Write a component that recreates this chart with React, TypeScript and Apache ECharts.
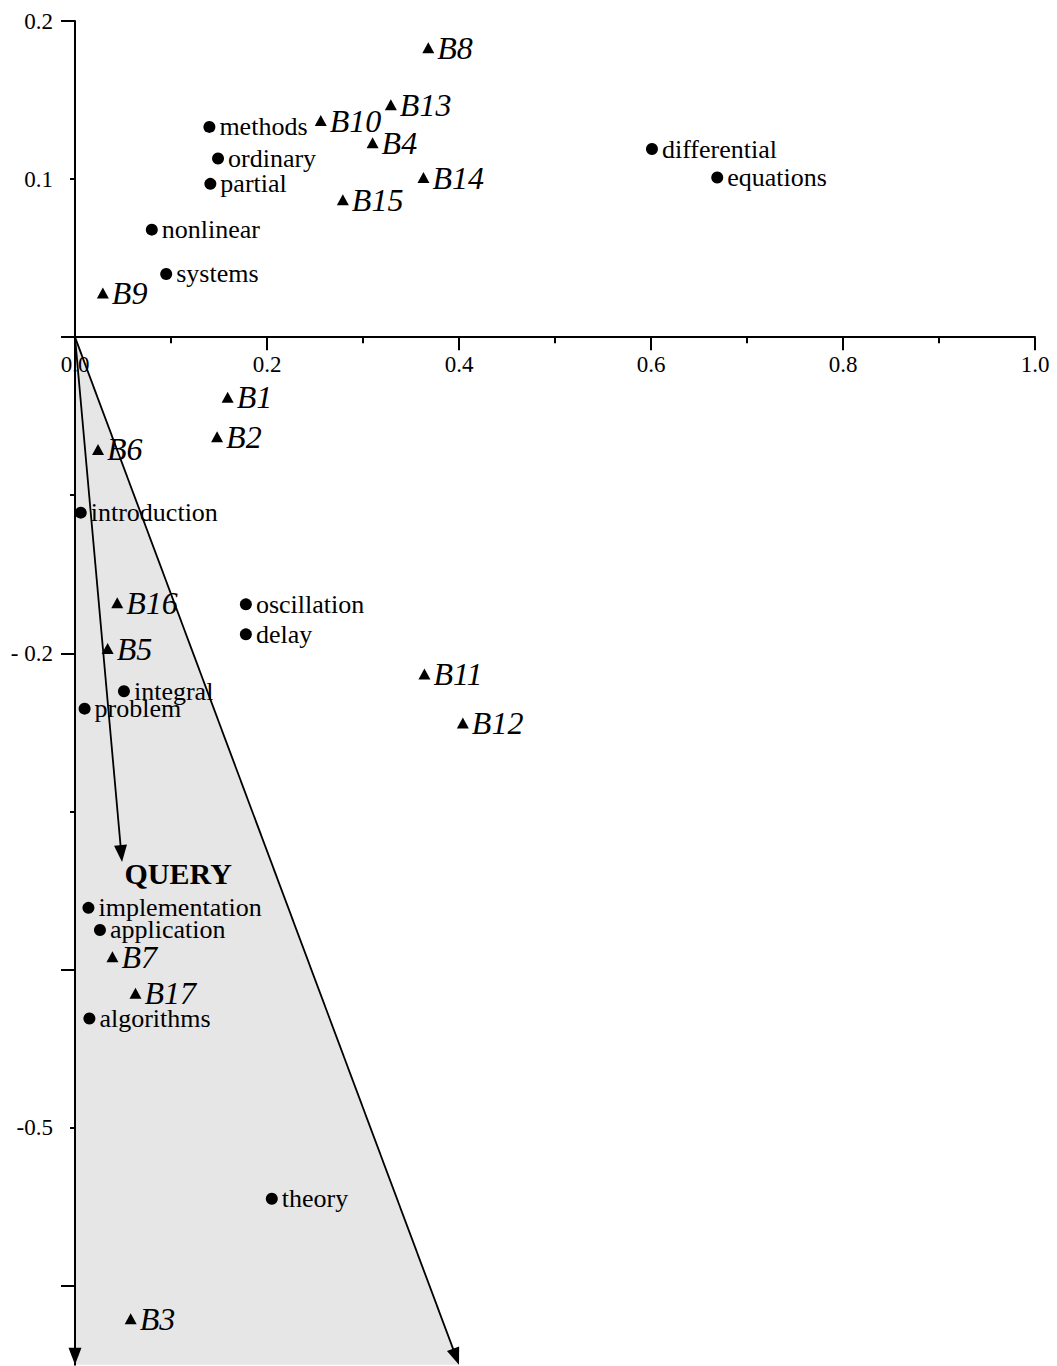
import React, { useEffect, useRef } from "react";
import * as echarts from "echarts";

// ---- data ----
const termNames = [
  "methods", "ordinary", "partial", "nonlinear", "systems", "differential", "equations",
  "introduction", "oscillation", "delay", "integral", "problem", "implementation",
  "application", "algorithms", "theory",
];
const termX = [0.14, 0.149, 0.141, 0.08, 0.095, 0.601, 0.669, 0.006, 0.178, 0.178, 0.051, 0.01, 0.014, 0.026, 0.015, 0.205];
const termY = [0.133, 0.113, 0.097, 0.068, 0.04, 0.119, 0.101, -0.111, -0.169, -0.188, -0.224, -0.235, -0.361, -0.375, -0.431, -0.545];

const docNames = ["B1", "B2", "B3", "B4", "B5", "B6", "B7", "B8", "B9", "B10", "B11", "B12", "B13", "B14", "B15", "B16", "B17"];
const docX = [0.159, 0.148, 0.058, 0.31, 0.034, 0.024, 0.039, 0.368, 0.029, 0.256, 0.364, 0.404, 0.329, 0.363, 0.279, 0.044, 0.063];
const docY = [-0.038, -0.063, -0.621, 0.123, -0.197, -0.071, -0.392, 0.183, 0.028, 0.137, -0.213, -0.244, 0.147, 0.101, 0.087, -0.168, -0.415];

const origin = [0, 0];
const queryPoint = [0.049, -0.332];
const queryLabel = "QUERY";
const coneLeftEnd = [0, -0.65];
const coneRightEnd = [0.4, -0.65];

const xMin = 0;
const xMax = 1.0;
const xInterval = 0.2;
const yMin = -0.65;
const yMax = 0.2;
const yMajorTicks = [0.2, 0, -0.2, -0.4, -0.6];
const yMinorTicks = [0.1, -0.1, -0.3, -0.5];
const yLabelValues = [0.2, 0.1, -0.2, -0.5];
const yLabelTexts = ["0.2", "0.1", "- 0.2", "-0.5"];

const FONT = "Liberation Serif";
const GRID_TOP = 21;
const GRID_BOTTOM = 1.3;
const CHART_H = 1366;

export default function App() {
  const ref = useRef<HTMLDivElement>(null);

  useEffect(() => {
    if (!ref.current) return;
    const chart = echarts.init(ref.current, undefined, { renderer: "svg" });

    const coneData = [[...origin, ...coneLeftEnd, ...coneRightEnd]];
    const arrowData = [
      [...origin, ...coneLeftEnd],
      [...origin, ...coneRightEnd],
      [...origin, ...queryPoint],
    ];

    const termData = termNames.map((n, i) => ({ name: n, value: [termX[i], termY[i]] }));
    const docData = docNames.map((n, i) => ({ name: n, value: [docX[i], docY[i]] }));

    // pixel distance from the grid bottom up to y = 0, so the x axis sits on zero
    const plotH = CHART_H - GRID_TOP - GRID_BOTTOM;
    const zeroOffset = -plotH * ((0 - yMin) / (yMax - yMin));

    const option: any = {
      animation: false,
      textStyle: { fontFamily: FONT },
      grid: {
        left: 75,
        right: 22,
        top: GRID_TOP,
        bottom: GRID_BOTTOM,
        containLabel: false,
        outerBoundsMode: "none",
      },
      xAxis: {
        type: "value",
        min: xMin,
        max: xMax,
        interval: xInterval,
        position: "bottom",
        offset: zeroOffset,
        z: 3,
        splitLine: { show: false },
        axisLine: { show: true, onZero: false, lineStyle: { color: "#000", width: 2 } },
        axisTick: { show: true, length: 13, lineStyle: { color: "#000", width: 2 } },
        minorTick: { show: true, splitNumber: 2, length: 6, lineStyle: { color: "#000", width: 2 } },
        axisLabel: {
          show: true,
          margin: 16,
          fontSize: 23,
          color: "#000",
          fontFamily: FONT,
          showMinLabel: true,
          showMaxLabel: true,
          formatter: (v: number) => v.toFixed(1),
        },
      },
      yAxis: [
        {
          type: "value",
          min: yMin,
          max: yMax,
          position: "left",
          z: 3,
          splitLine: { show: false },
          axisLine: { show: true, onZero: false, lineStyle: { color: "#000", width: 2 } },
          axisTick: { show: true, length: 14, customValues: yMajorTicks, lineStyle: { color: "#000", width: 2 } },
          axisLabel: {
            show: true,
            margin: 22,
            fontSize: 23,
            color: "#000",
            fontFamily: FONT,
            customValues: yLabelValues,
            formatter: (v: number) => {
              const i = yLabelValues.findIndex((t) => Math.abs(t - v) < 1e-6);
              return i >= 0 ? yLabelTexts[i] : "";
            },
          },
        },
        {
          type: "value",
          min: yMin,
          max: yMax,
          position: "left",
          z: 3,
          splitLine: { show: false },
          axisLine: { show: false, onZero: false },
          axisTick: { show: true, length: 5, customValues: yMinorTicks, lineStyle: { color: "#000", width: 2 } },
          axisLabel: { show: false },
        },
      ],
      series: [
        {
          type: "custom",
          z: 1,
          silent: true,
          data: coneData,
          encode: { x: [0, 2, 4], y: [1, 3, 5] },
          renderItem: (params: any, api: any) => {
            const pts = [0, 1, 2].map((k) => api.coord([api.value(2 * k), api.value(2 * k + 1)]));
            return { type: "polygon", shape: { points: pts }, style: { fill: "#e6e6e6", stroke: "none" } };
          },
        },
        {
          type: "custom",
          z: 4,
          silent: true,
          data: arrowData,
          encode: { x: [0, 2], y: [1, 3] },
          renderItem: (params: any, api: any) => {
            const p0 = api.coord([api.value(0), api.value(1)]);
            const p1 = api.coord([api.value(2), api.value(3)]);
            const dx = p1[0] - p0[0];
            const dy = p1[1] - p0[1];
            const len = Math.sqrt(dx * dx + dy * dy);
            const ux = dx / len;
            const uy = dy / len;
            const L = 17;
            const W = 6.5;
            const bx = p1[0] - ux * L;
            const by = p1[1] - uy * L;
            const px = -uy;
            const py = ux;
            return {
              type: "group",
              children: [
                {
                  type: "line",
                  shape: { x1: p0[0], y1: p0[1], x2: bx + ux * 2, y2: by + uy * 2 },
                  style: { stroke: "#000", lineWidth: 1.8 },
                },
                {
                  type: "polygon",
                  shape: { points: [[p1[0], p1[1]], [bx + px * W, by + py * W], [bx - px * W, by - py * W]] },
                  style: { fill: "#000", stroke: "none" },
                },
              ],
            };
          },
        },
        {
          type: "scatter",
          z: 5,
          silent: true,
          data: termData,
          symbol: "circle",
          symbolSize: 12,
          itemStyle: { color: "#000", opacity: 1 },
          label: {
            show: true,
            position: "right",
            distance: 4,
            formatter: "{b}",
            fontFamily: FONT,
            fontSize: 26,
            color: "#000",
          },
        },
        {
          type: "scatter",
          z: 5,
          silent: true,
          data: docData,
          symbol: "triangle",
          symbolSize: [12, 11],
          itemStyle: { color: "#000", opacity: 1 },
          label: {
            show: true,
            position: "right",
            distance: 3,
            formatter: "{b}",
            fontFamily: FONT,
            fontStyle: "italic",
            fontSize: 32,
            color: "#000",
          },
        },
        {
          type: "scatter",
          z: 5,
          silent: true,
          data: [{ name: queryLabel, value: queryPoint }],
          symbol: "circle",
          symbolSize: 1,
          itemStyle: { color: "#000", opacity: 0 },
          label: {
            show: true,
            position: "right",
            distance: 2,
            offset: [0, 12],
            formatter: "{b}",
            fontFamily: FONT,
            fontWeight: "bold",
            fontSize: 30,
            color: "#000",
            opacity: 1,
          },
        },
      ],
    };

    chart.setOption(option);
    return () => chart.dispose();
  }, []);

  return (
    <div
      ref={ref}
      style={{ position: "absolute", left: 0, top: 0, width: 1057, height: CHART_H, background: "#fff" }}
    />
  );
}
